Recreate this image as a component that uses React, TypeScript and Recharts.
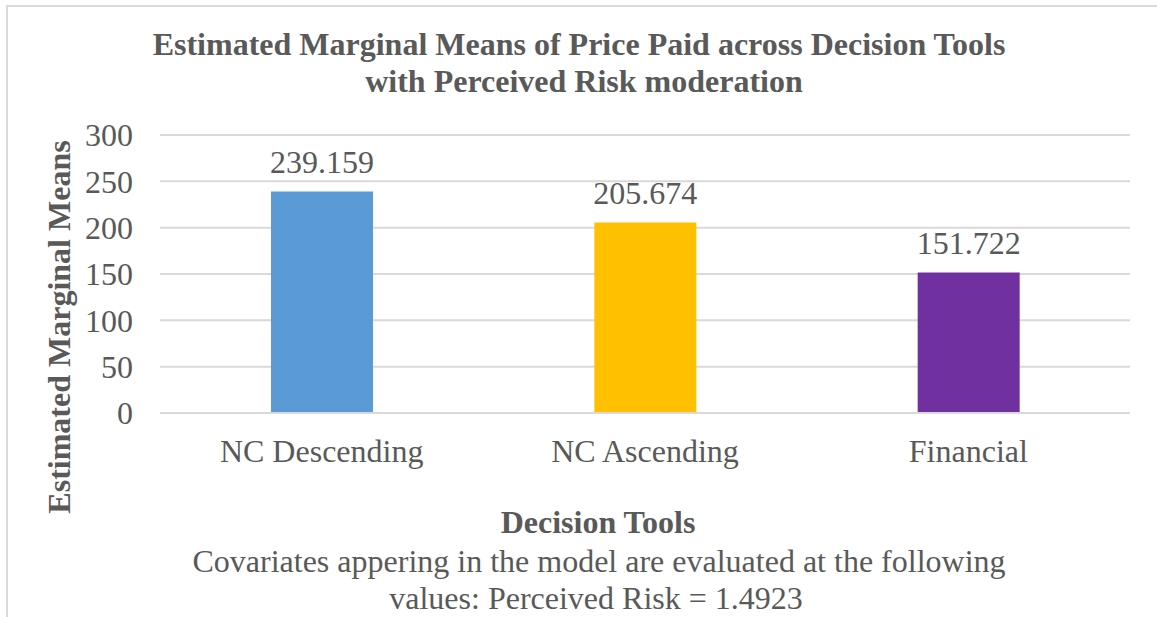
import { BarChart, Bar, XAxis, YAxis, CartesianGrid, LabelList, Cell } from 'recharts';

const categories = ['NC Descending', 'NC Ascending', 'Financial'];
const means = [239.159, 205.674, 151.722];
const barColors = ['#5B9BD5', '#FFC000', '#7030A0'];
const yTicks = [0, 50, 100, 150, 200, 250, 300];

const titleLines = [
  'Estimated Marginal Means of Price Paid across Decision Tools',
  'with Perceived Risk moderation',
];
const footLines = [
  'Covariates appering in the model are evaluated at the following',
  'values: Perceived Risk = 1.4923',
];

const data = categories.map((name, i) => ({ name, value: means[i] }));

const FONT = '"Liberation Serif", "Times New Roman", serif';
const TEXT = '#595959';
const GRID = '#D9D9D9';

export default function App() {
  return (
    <div
      style={{
        position: 'fixed',
        left: 0,
        top: 0,
        width: 1157,
        height: 617,
        background: '#fff',
        overflow: 'hidden',
        fontFamily: FONT,
      }}
    >
      {/* chart frame, runs off the right and bottom edges */}
      <div
        style={{
          position: 'absolute',
          left: 6,
          top: 5,
          width: 1170,
          height: 640,
          border: `2px solid ${GRID}`,
          boxSizing: 'border-box',
        }}
      />
      <div style={{ position: 'absolute', left: 0, top: 0 }}>
        <BarChart
          width={1157}
          height={617}
          data={data}
          margin={{ top: 135, right: 27, left: 0, bottom: 0 }}
        >
          <CartesianGrid vertical={false} stroke={GRID} strokeWidth={2} />
          <XAxis
            dataKey="name"
            height={204}
            tickLine={false}
            axisLine={{ stroke: GRID, strokeWidth: 2 }}
            tickMargin={20}
            tick={{ fontSize: 32, fill: TEXT, fontFamily: FONT }}
          />
          <YAxis
            width={160}
            domain={[0, 300]}
            ticks={yTicks}
            axisLine={false}
            tickLine={false}
            tickMargin={21}
            tick={{ fontSize: 32, fill: TEXT, fontFamily: FONT }}
          />
          <Bar dataKey="value" barSize={102} isAnimationActive={false}>
            {data.map((d, i) => (
              <Cell key={d.name} fill={barColors[i]} />
            ))}
            <LabelList
              dataKey="value"
              position="top"
              offset={18}
              style={{ fontSize: 32, fill: TEXT, fontFamily: FONT }}
            />
          </Bar>
        </BarChart>
      </div>
      <svg
        width={1157}
        height={617}
        style={{ position: 'absolute', left: 0, top: 0, pointerEvents: 'none' }}
      >
        <g fontFamily={FONT} fill={TEXT} textAnchor="middle">
          <text x={579} y={55} fontSize={32} fontWeight="bold">
            {titleLines[0]}
          </text>
          <text x={584} y={92} fontSize={32} fontWeight="bold">
            {titleLines[1]}
          </text>
          <text
            x={70}
            y={327}
            fontSize={32}
            fontWeight="bold"
            transform="rotate(-90, 70, 327)"
          >
            Estimated Marginal Means
          </text>
          <text x={598} y={533} fontSize={32} fontWeight="bold">
            Decision Tools
          </text>
          <text x={599} y={572} fontSize={32}>
            {footLines[0]}
          </text>
          <text x={596} y={609} fontSize={32}>
            {footLines[1]}
          </text>
        </g>
      </svg>
    </div>
  );
}
